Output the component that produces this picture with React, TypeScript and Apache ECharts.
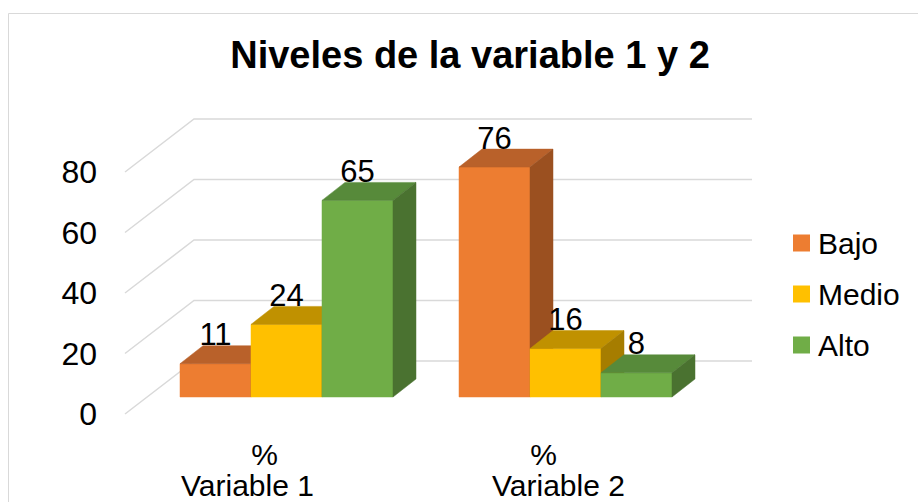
import React, { useEffect, useRef } from 'react';
import * as echarts from 'echarts';

const categories = ['Variable 1', 'Variable 2'];
const bajo = [11, 76];
const medio = [24, 16];
const alto = [65, 8];
const yTicks = [0, 20, 40, 60, 80];
const seriesNames = ['Bajo', 'Medio', 'Alto'];
const seriesValues = [bajo, medio, alto];

const FONT = '"Liberation Sans", Arial, sans-serif';
const FRONT = ['#ED7D31', '#FFC000', '#70AD47'];
const TOP = ['#B9612A', '#C09100', '#578A3A'];
const SIDE = ['#9B5020', '#A67D00', '#4A7230'];
const BAR_DX = 23;
const BAR_DY = -18;
const FRONT_OFF = [-22, 17];
const BACK_OFF = [47, -36];
const GROUP_FRACTION = 0.7634;

function makeBarRenderer(s: number) {
  return (params: any, api: any) => {
    const i = api.value(0);
    const v = api.value(1);
    const top = api.coord([i, v]);
    const base = api.coord([i, 0]);
    const band = api.size([1, 0])[0];
    const groupW = band * GROUP_FRACTION;
    const w = groupW / 3;
    const x = top[0] - groupW / 2 + s * w;
    const yTop = top[1];
    const y0 = base[1];
    const dx = BAR_DX;
    const dy = BAR_DY;
    return {
      type: 'group',
      children: [
        {
          type: 'rect',
          shape: { x, y: yTop, width: w, height: y0 - yTop },
          style: { fill: FRONT[s], stroke: FRONT[s], lineWidth: 0.5 },
        },
        {
          type: 'polygon',
          shape: { points: [[x, yTop], [x + dx, yTop + dy], [x + w + dx, yTop + dy], [x + w, yTop]] },
          style: { fill: TOP[s], stroke: TOP[s], lineWidth: 0.5 },
        },
        {
          type: 'polygon',
          shape: { points: [[x + w, yTop], [x + w + dx, yTop + dy], [x + w + dx, y0 + dy], [x + w, y0]] },
          style: { fill: SIDE[s], stroke: SIDE[s], lineWidth: 0.5 },
        },
        {
          type: 'text',
          style: {
            text: String(v),
            x: x + w / 2,
            y: yTop + dy - 11,
            align: 'center',
            verticalAlign: 'middle',
            font: `31px ${FONT}`,
            fill: '#000',
          },
        },
      ],
    };
  };
}

function gridRenderer(params: any, api: any) {
  const v = api.value(1);
  const y = api.coord([0, v])[1];
  const cs = params.coordSys;
  const x0 = cs.x;
  const x1 = cs.x + cs.width;
  return {
    type: 'polyline',
    shape: {
      points: [
        [x0 + FRONT_OFF[0], y + FRONT_OFF[1]],
        [x0 + BACK_OFF[0], y + BACK_OFF[1]],
        [x1 + BACK_OFF[0], y + BACK_OFF[1]],
      ],
    },
    style: { fill: 'none', stroke: '#d9d9d9', lineWidth: 1.5 },
    silent: true,
  };
}

export default function App() {
  const ref = useRef<HTMLDivElement>(null);
  useEffect(() => {
    if (!ref.current) return;
    const chart = echarts.init(ref.current, null, { renderer: 'svg' });
    const option: any = {
      animation: false,
      backgroundColor: '#ffffff',
      title: {
        text: 'Niveles de la variable 1 y 2',
        left: 470,
        top: 36,
        padding: 0,
        textAlign: 'center',
        textStyle: { fontFamily: FONT, fontWeight: 'bold', fontSize: 38, color: '#000' },
      },
      legend: {
        data: seriesNames.map((n) => ({ name: n, icon: 'rect' })),
        orient: 'vertical',
        left: 793,
        top: 228,
        padding: 0,
        itemWidth: 17,
        itemHeight: 17,
        itemGap: 21,
        textStyle: { fontFamily: FONT, fontSize: 30, color: '#000', lineHeight: 30, padding: [0, 0, 0, 3] },
      },
      graphic: [
        {
          type: 'rect',
          shape: { x: 8.5, y: 13.5, width: 1000, height: 1000 },
          style: { fill: 'none', stroke: '#d9d9d9', lineWidth: 1 },
          silent: true,
          z: -10,
        },
      ],
      grid: [
        { left: 147, right: 213, top: 155, bottom: 105 },
        { left: 125, right: 235, top: 172, bottom: 88 },
      ],
      xAxis: [
        { type: 'category', gridIndex: 0, data: categories, show: false },
        {
          type: 'category',
          gridIndex: 1,
          data: categories,
          axisLine: { show: false },
          axisTick: { show: false },
          axisLabel: {
            margin: 25,
            interval: 0,
            formatter: (val: string, idx: number) => `{p|%}\n{v${idx}|${val}}`,
            rich: {
              p: { fontFamily: FONT, fontSize: 30, lineHeight: 31, color: '#000' },
              v0: { fontFamily: FONT, fontSize: 30, lineHeight: 31, color: '#000', padding: [0, 34, 0, 0] },
              v1: { fontFamily: FONT, fontSize: 30, lineHeight: 31, color: '#000', padding: [0, 0, 0, 30] },
            },
          },
        },
      ],
      yAxis: [
        { type: 'value', gridIndex: 0, min: 0, max: 80, interval: 20, show: false },
        {
          type: 'value',
          gridIndex: 1,
          min: 0,
          max: 80,
          interval: 20,
          axisLine: { show: false },
          axisTick: { show: false },
          splitLine: { show: false },
          axisLabel: { fontFamily: FONT, fontSize: 32, color: '#000', margin: 28 },
        },
      ],
      series: [
        {
          type: 'custom',
          name: 'grid',
          xAxisIndex: 0,
          yAxisIndex: 0,
          silent: true,
          z: 1,
          renderItem: gridRenderer,
          data: yTicks.map((t) => [0, t]),
        },
        ...seriesNames.map((name, s) => ({
          type: 'custom',
          name,
          xAxisIndex: 0,
          yAxisIndex: 0,
          z: 2,
          color: FRONT[s],
          itemStyle: { color: FRONT[s] },
          renderItem: makeBarRenderer(s),
          data: seriesValues[s].map((v, i) => [i, v]),
        })),
      ],
    };
    chart.setOption(option);
    return () => chart.dispose();
  }, []);
  return (
    <div
      ref={ref}
      style={{ position: 'fixed', left: 0, top: 0, width: 918, height: 502 }}
    />
  );
}
